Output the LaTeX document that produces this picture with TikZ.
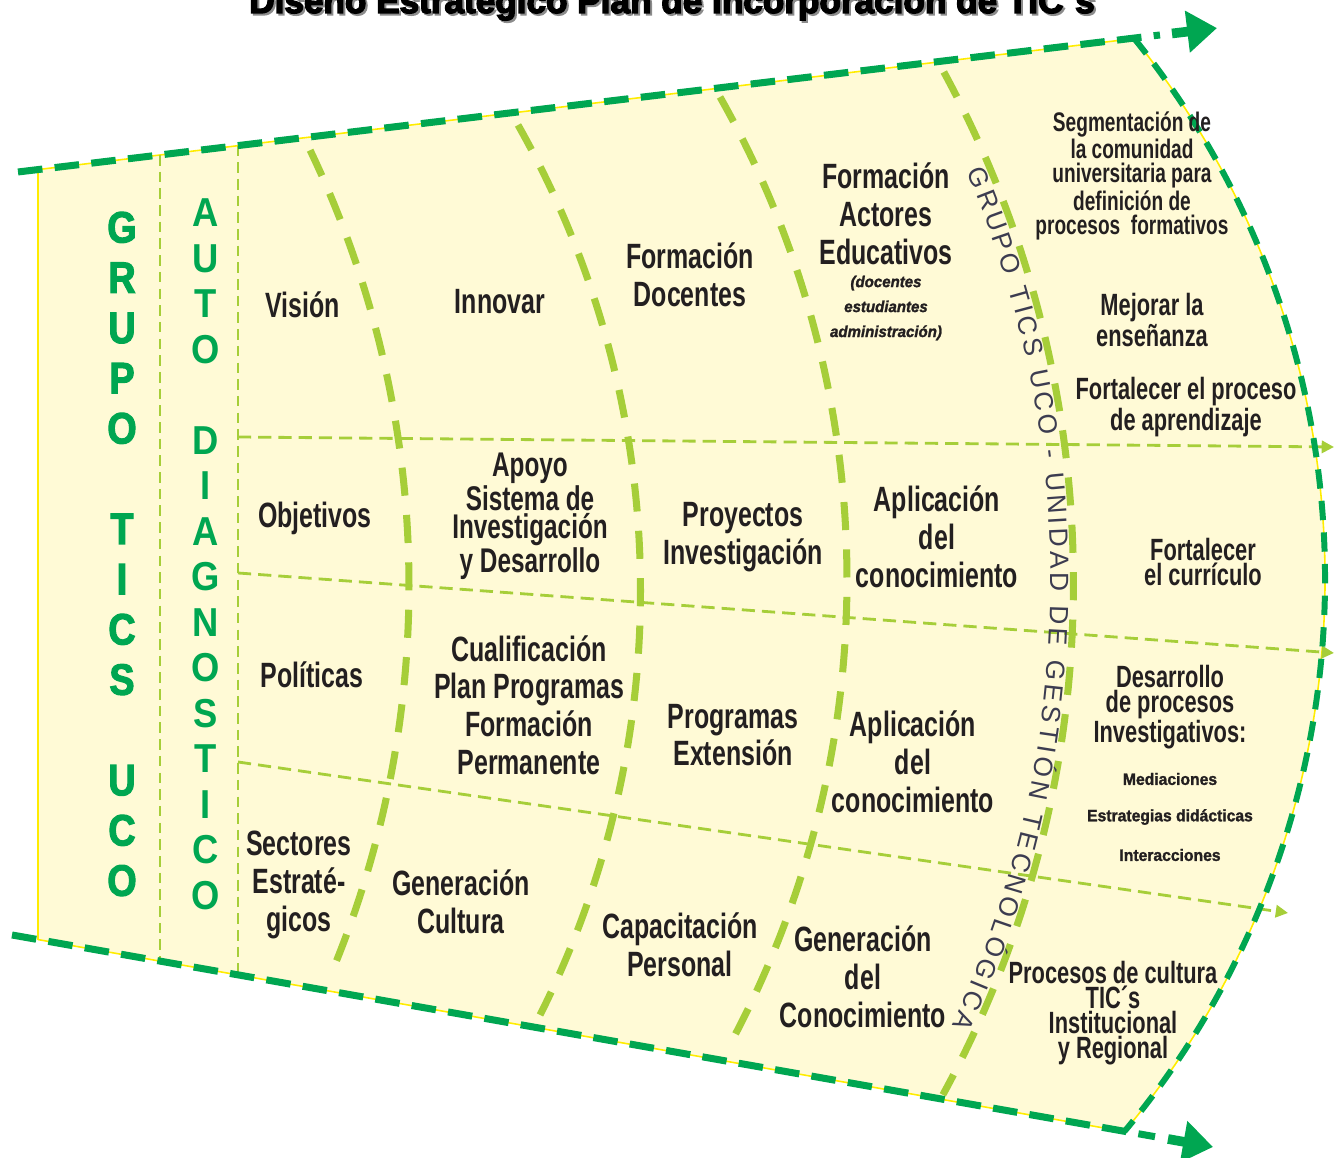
\documentclass[tikz,border=0pt]{standalone}
\usepackage{fontspec}
\setmainfont{Liberation Sans}
\usetikzlibrary{arrows.meta,decorations.text}
\newfontfamily\cf[FakeStretch=0.71]{Liberation Sans}
\newfontfamily\hv{Liberation Sans}
\newfontfamily\hvb[FakeStretch=0.95,BoldFeatures={FakeBold=1.5},BoldItalicFeatures={FakeBold=1.5}]{Liberation Sans}
\newfontfamily\grpfont[FakeStretch=0.86,BoldFeatures={FakeBold=2.5}]{Liberation Sans}
\newfontfamily\autofont[FakeStretch=0.9]{Liberation Sans}
\newfontfamily\titlef[BoldFeatures={FakeBold=4}]{Liberation Sans}
\definecolor{dkgreen}{RGB}{0,166,81}
\definecolor{ltgreen}{RGB}{166,206,57}
\definecolor{paper}{RGB}{255,250,214}
\definecolor{ylw}{RGB}{255,236,0}
\definecolor{ink}{RGB}{35,31,32}
\definecolor{outl}{RGB}{60,60,80}
\newcommand\tpfont{\hv\fontsize{15}{15}\selectfont\color{outl}}
\begin{document}
\begin{tikzpicture}[x=0.02cm,y=0.02cm,
 edgedash/.style={draw=dkgreen, line width=4pt, dash pattern=on 14pt off 7pt},
 rimdash/.style={draw=dkgreen, line width=3.4pt, dash pattern=on 11pt off 7pt},
 thinyellow/.style={draw=ylw, line width=0.9pt},
 divider/.style={draw=ltgreen, line width=4pt, dash pattern=on 16pt off 11pt},
 rowline/.style={draw=ltgreen, line width=1.6pt, dash pattern=on 7.5pt off 4pt, -{Triangle[length=7pt,width=7pt]}},
 colline/.style={draw=ltgreen, line width=0.9pt, dash pattern=on 6pt off 3.5pt},
 bigtip/.style={draw=dkgreen, line width=5.5pt, -{Triangle[length=17pt,width=23pt]}},
 lbl/.style={inner sep=0pt, align=center, text=ink, font=\cf\bfseries\fontsize{20}{21.5}\selectfont},
 lbltight/.style={lbl, font=\cf\bfseries\fontsize{19.5}{16}\selectfont},
 lblmid/.style={lbl, font=\cf\bfseries\fontsize{17.5}{14.3}\selectfont},
 lblseg/.style={lbl, font=\cf\bfseries\fontsize{15.3}{14.2}\selectfont},
 lblsmall/.style={lbl, font=\hvb\bfseries\fontsize{9.4}{14.2}\selectfont},
 lblpar/.style={lbl, font=\hvb\bfseries\itshape\fontsize{9}{14.2}\selectfont},
 grp/.style={inner sep=0pt, align=center, text=dkgreen, font=\grpfont\bfseries\fontsize{25}{28.6}\selectfont},
 auto/.style={inner sep=0pt, align=center, text=dkgreen, font=\autofont\bfseries\fontsize{23}{25.9}\selectfont},
 ttl/.style={inner sep=0pt, anchor=base, font=\titlef\bfseries\fontsize{20}{24}\selectfont}
]
\useasboundingbox (0,0) rectangle (1336,1158);

% title (cut at top edge)
\node[ttl, text=black!45] (titleshadow) at (674,1143) {Diseño Estratégico Plan de Incorporación de TIC´s};
\node[ttl, text=black] (title) at (672,1145) {Diseño Estratégico Plan de Incorporación de TIC´s};

% main region
\coordinate (tl) at (38,988.4);
\coordinate (tc) at (1134.3,1119.4);
\coordinate (bc) at (1124.2,26.4);
\coordinate (bl) at (38,218.4);
\fill[paper] (tl) -- (tc) arc[start angle=38.88, end angle=-39.92, radius=861] -- (bl) -- cycle;
\draw[thinyellow] (tl) -- (bl);
\draw[thinyellow] (tl) -- (tc);
\draw[thinyellow] (bl) -- (bc);
\draw[thinyellow] (tc) arc[start angle=38.88, end angle=-39.92, radius=861];

% column lines
\coordinate (c1t) at (160,1003); \coordinate (c1b) at (160,196.9);
\coordinate (c2t) at (238,1012.4); \coordinate (c2b) at (238,183.1);
\draw[colline] (c1t) -- (c1b);
\draw[colline] (c2t) -- (c2b);

% row lines
\coordinate (r1a) at (238,721); \coordinate (r1b) at (1334,711);
\coordinate (r2a) at (238,585); \coordinate (r2b) at (1334,505);
\coordinate (r3a) at (238,396); \coordinate (r3b) at (1288,245);
\draw[rowline] (r1a) -- (r1b);
\draw[rowline] (r2a) -- (r2b);
\draw[rowline] (r3a) -- (r3b);

% curved dividers
\coordinate (d1) at (310.1,1007.8);
\coordinate (d2) at (518.0,1033.0);
\coordinate (d3) at (720.0,1061.0);
\coordinate (d4) at (943.8,1086.0);
\draw[divider] (d1) arc[start angle=25.6, end angle=-22.55, radius=1007.6];
\draw[divider] (d2) arc[start angle=29.48, end angle=-26.64, radius=946.3];
\draw[divider] (d3) arc[start angle=29.48, end angle=-28.64, radius=981];
\draw[divider] (d4) arc[start angle=28.5, end angle=-28.61, radius=1070];

% outer edges
\coordinate (ts) at (18,986); \coordinate (te) at (1160,1123.0);
\coordinate (ta) at (1172,1124.5); \coordinate (tt) at (1217,1129.9);
\coordinate (bs) at (12,223); \coordinate (be) at (1155,21.3);
\coordinate (ba) at (1168,19.0); \coordinate (bt) at (1213,11.0);
\draw[edgedash] (ts) -- (te);
\draw[bigtip] (ta) -- (tt);
\draw[edgedash] (bs) -- (be);
\draw[bigtip] (ba) -- (bt);
\draw[rimdash] (tc) arc[start angle=38.88, end angle=-39.92, radius=861];

% text along divider 4
\coordinate (tp) at (966.8,986.0);
\path[decorate, decoration={text along path, text align={fit to path},
  text={|\tpfont|GRUPO TICS UCO - UNIDAD DE GESTIÓN TECNOLÓGICA}}]
  (tp) arc[start angle=23.1, end angle=-24.97, radius=1047];

% left vertical titles
\node[grp] (grupo) at (122,604) {G\\R\\U\\P\\O\\[28.6pt]T\\I\\C\\S\\[28.6pt]U\\C\\O};
\node[auto] (autod) at (206,603.5) {A\\U\\T\\O\\[25.9pt]D\\I\\A\\G\\N\\O\\S\\T\\I\\C\\O};

% column 1
\node[lbl] (vision) at (303,853) {Visión};
\node[lbl] (objetivos) at (315,640) {Objetivos};
\node[lbl] (politicas) at (312,483) {Políticas};
\node[lbl] (sectores) at (299,273) {Sectores\\Estraté-\\gicos};

% column 2
\node[lbl] (innovar) at (500,856) {Innovar};
\node[lbltight] (apoyo) at (530,642) {Apoyo\\Sistema de\\Investigación\\y Desarrollo};
\node[lbl] (cualif) at (529,453) {Cualificación\\Plan Programas\\Formación\\Permanente};
\node[lbl] (gencult) at (461,256) {Generación\\Cultura};

% column 3
\node[lbl] (formdoc) at (690,883) {Formación\\Docentes};
\node[lbl] (proyectos) at (743,621) {Proyectos\\Investigación};
\node[lbl] (programas) at (733,423) {Programas\\Extensión};
\node[lbl] (capacit) at (680,213) {Capacitación\\Personal};

% column 4
\node[lbl] (actores) at (886,944) {Formación\\Actores\\Educativos};
\node[lblpar] (docentes) at (886,850) {(docentes\\estudiantes\\administración)};
\node[lbl] (aplic1) at (937,621) {Aplicación\\del\\conocimiento};
\node[lbl] (aplic2) at (913,396) {Aplicación\\del\\conocimiento};
\node[lbl] (gencon) at (863,181) {Generación\\del\\Conocimiento};

% column 5
\node[lblseg] (segment) at (1132,982) {Segmentación de\\la comunidad\\universitaria para\\definición de\\procesos~ formativos};
\node[lblmid] (mejorar) at (1152,838) {Mejorar la\\enseñanza};
\node[lblmid] (fortproc) at (1186,751) {Fortalecer el proceso\\de aprendizaje};
\node[lblmid] (fortcurr) at (1203,596) {Fortalecer\\el currículo};
\node[lblmid] (desarrollo) at (1170,451) {Desarrollo\\de procesos\\Investigativos:};
\node[lblsmall] (mediac) at (1170,379) {Mediaciones};
\node[lblsmall] (estrat) at (1170,341) {Estrategias didácticas};
\node[lblsmall] (interac) at (1170,303) {Interacciones};
\node[lblmid] (procesos) at (1113,145) {Procesos de cultura\\TIC´s\\Institucional\\y Regional};
\end{tikzpicture}
\end{document}
